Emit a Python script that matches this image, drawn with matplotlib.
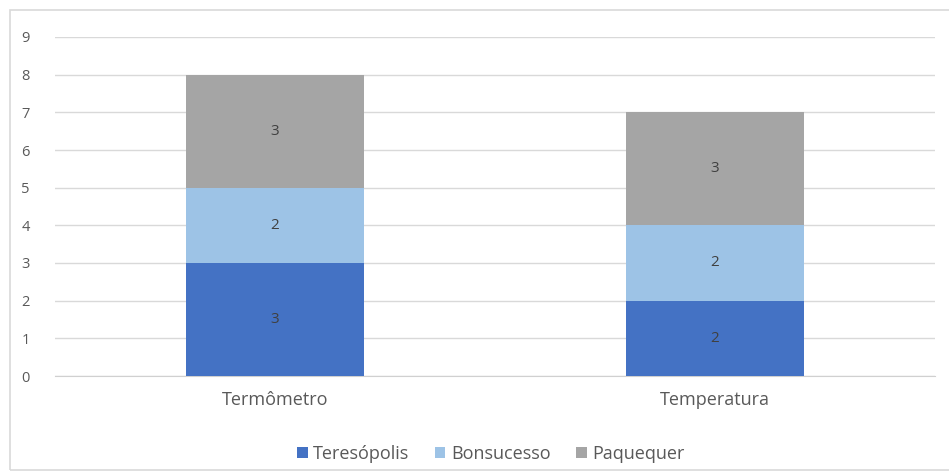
import matplotlib
matplotlib.use('Agg')
import matplotlib.pyplot as plt
from matplotlib.patches import Rectangle
import numpy as np

categories = ['Termômetro', 'Temperatura']
series_names = ['Teresópolis', 'Bonsucesso', 'Paquequer']
teresopolis = [3, 2]
bonsucesso = [2, 2]
paquequer = [3, 3]
colors = ['#4472C4', '#9DC3E6', '#A5A5A5']

plt.rcParams['font.family'] = ['Open Sans', 'DejaVu Sans']
txt = '#595959'

fig = plt.figure(figsize=(9.49, 4.76), dpi=100)
fig.patches.append(Rectangle((10 / 949, 6 / 476), 1.0, 1 - 16 / 476,
                             transform=fig.transFigure, fill=False,
                             edgecolor='#D9D9D9', linewidth=1.2))
ax = fig.add_axes([55 / 949, 1 - 376 / 476, 880 / 949, 339 / 476])

x = np.arange(len(categories))
bottom = np.zeros(len(categories))
for name, vals, c in zip(series_names, [teresopolis, bonsucesso, paquequer], colors):
    bars = ax.bar(x, vals, 0.405, bottom=bottom, color=c, label=name, zorder=3)
    for b, v, bt in zip(bars, vals, bottom):
        ax.text(b.get_x() + b.get_width() / 2, bt + v / 2, str(v),
                ha='center', va='center', color='#404040', fontsize=11, zorder=4)
    bottom = bottom + np.array(vals)

ax.set_xlim(-0.5, 1.5)
ax.set_ylim(0, 9)
ax.set_yticks(range(0, 10))
ax.yaxis.grid(True, color='#D9D9D9', linewidth=1, zorder=0)
for s in ['top', 'right', 'left']:
    ax.spines[s].set_visible(False)
ax.spines['bottom'].set_color('#D0D0D0')
ax.tick_params(axis='both', length=0, colors=txt)
ax.tick_params(axis='y', pad=18, labelsize=10.5)
ax.tick_params(axis='x', pad=11, labelsize=13)
ax.set_xticks(x)
ax.set_xticklabels(categories)

ax.legend(loc='upper center', bbox_to_anchor=(0.495, -0.155), ncol=3, frameon=False,
          fontsize=13, labelcolor=txt, handlelength=0.6, handleheight=0.6,
          handletextpad=0.3, columnspacing=1.4)

fig.savefig('out.png', dpi=100)
